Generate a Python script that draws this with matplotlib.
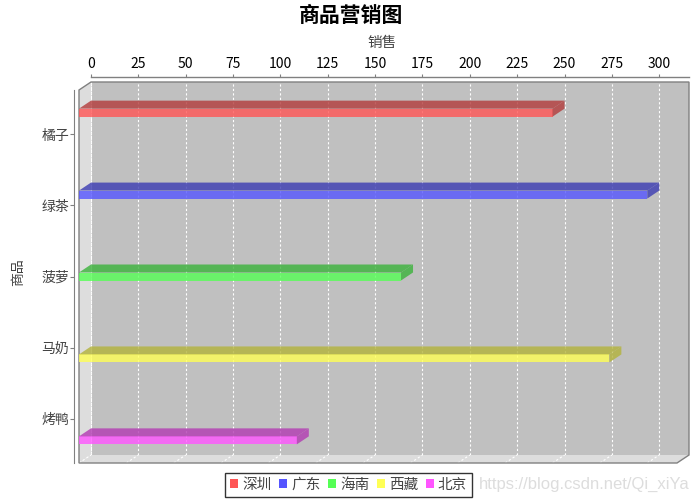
import matplotlib
matplotlib.use("Agg")
import matplotlib.pyplot as plt
from matplotlib.patches import Polygon, Rectangle
import numpy as np

plt.rcParams['font.family'] = ['Noto Sans CJK SC', 'DejaVu Sans']

# ---- data ----
categories = ["橘子", "绿茶", "菠萝", "马奶", "烤鸭"]
series = ["深圳", "广东", "海南", "西藏", "北京"]
series_category = ["橘子", "绿茶", "菠萝", "马奶", "烤鸭"]
values = [250, 300, 170, 280, 115]
colors = ["#FF5555", "#5555FF", "#55FF55", "#FFFF55", "#FF55FF"]
xticks = list(range(0, 301, 25))

title = "商品营销图"
xlabel = "销售"
ylabel = "商品"

# ---- layout (pixels) ----
W, H = 700, 500
DPI = 100
FL, FR, FT, FB = 79, 677, 90, 463      # front plane
DX, DY = 12, 8                          # 3D offset
XMAX = 315.7
YTOP, YBOT = -0.622, 4.622

fig = plt.figure(figsize=(W / DPI, H / DPI), dpi=DPI)
fig.patch.set_facecolor("white")


def rect(l, t, r, b):
    return [l / W, 1 - b / H, (r - l) / W, (b - t) / H]


# back wall axes (carries top value axis)
axb = fig.add_axes(rect(FL + DX, FT - DY, FR + DX, FB - DY))
axb.set_facecolor("#C0C0C0")
axb.set_xlim(0, XMAX)
axb.set_ylim(0, 1)
axb.set_yticks([])
axb.xaxis.tick_top()
axb.set_xticks(xticks)
axb.set_xticklabels([str(t) for t in xticks], family="Liberation Sans",
                    fontsize=9.5, color="#444444")
axb.tick_params(axis="x", direction="out", length=2.5, width=0.8,
                color="#808080", pad=2)
for s in ["left", "right", "bottom"]:
    axb.spines[s].set_visible(False)
axb.spines["top"].set_position(("outward", 3.3))
axb.spines["top"].set_color("#808080")
axb.spines["top"].set_linewidth(1.0)
for t in xticks:
    axb.axvline(t, color="white", lw=0.8, ls=(0, (2, 2)), zorder=0.5)
axb.set_zorder(0)

# front axes (category axis + 3D geometry)
ax = fig.add_axes(rect(FL, FT, FR, FB))
ax.set_zorder(1)
ax.patch.set_visible(False)
ax.set_xlim(0, XMAX)
ax.set_ylim(YBOT, YTOP)
for s in ["top", "right", "bottom"]:
    ax.spines[s].set_visible(False)
ax.spines["left"].set_position(("outward", 3.4))
ax.spines["left"].set_color("#808080")
ax.set_xticks([])
ax.set_yticks(range(len(categories)))
ax.set_yticklabels(categories, fontsize=10, color="#444444")
ax.tick_params(axis="y", direction="out", length=2.6, width=0.8,
               color="#808080", pad=1)

# data units per pixel
dxd = DX * XMAX / (FR - FL)
dyd = DY * (YBOT - YTOP) / (FB - FT)

wall = "#DDDDDD"
# left wall
ax.add_patch(Polygon([(0, YTOP), (0, YBOT), (dxd, YBOT - dyd), (dxd, YTOP - dyd)],
                     closed=True, facecolor=wall, edgecolor="none",
                     clip_on=False, zorder=1))
# floor
ax.add_patch(Polygon([(0, YBOT), (XMAX, YBOT), (XMAX + dxd, YBOT - dyd), (dxd, YBOT - dyd)],
                     closed=True, facecolor=wall, edgecolor="none",
                     clip_on=False, zorder=1))
for t in xticks:
    ax.plot([t, t + dxd], [YBOT, YBOT - dyd], color="white", lw=0.8,
            ls=(0, (2, 2)), clip_on=False, zorder=1.5)
ax.plot([dxd, dxd], [YTOP - dyd, YBOT - dyd], color="white", lw=0.8,
        ls=(0, (2, 2)), clip_on=False, zorder=1.5)
# outline
ax.add_patch(Polygon([(0, YTOP), (0, YBOT), (XMAX, YBOT), (XMAX + dxd, YBOT - dyd),
                      (XMAX + dxd, YTOP - dyd), (dxd, YTOP - dyd)],
                     closed=True, facecolor="none", edgecolor="#808080", lw=1.0,
                     clip_on=False, zorder=2))

# bars
slot = 10.8 * (YBOT - YTOP) / (FB - FT)
bh = 8.0 * (YBOT - YTOP) / (FB - FT)
ALPHA = 0.8
for j, (sname, cat, v, c) in enumerate(zip(series, series_category, values, colors)):
    i = categories.index(cat)
    yc = i + (j - 2) * slot
    y0, y1 = yc - bh / 2, yc + bh / 2
    rgb = np.array(matplotlib.colors.to_rgb(c))
    dark = tuple(rgb * 0.7)
    ax.barh(yc, v, height=bh, left=0, color=c, alpha=ALPHA, lw=0,
            clip_on=False, zorder=3)
    ax.add_patch(Polygon([(0, y0), (v, y0), (v + dxd, y0 - dyd), (dxd, y0 - dyd)],
                         closed=True, facecolor=dark, alpha=ALPHA, lw=0,
                         clip_on=False, zorder=3))
    ax.add_patch(Polygon([(v, y0), (v, y1), (v + dxd, y1 - dyd), (v + dxd, y0 - dyd)],
                         closed=True, facecolor=dark, alpha=ALPHA, lw=0,
                         clip_on=False, zorder=3))

# texts
fig.text(351 / W, 1 - 15 / H, title, ha="center", va="center",
         fontsize=15, fontweight="bold", color="black")
fig.text(382 / W, 1 - 43 / H, xlabel, ha="center", va="center",
         fontsize=10.5, color="#444444")
fig.text(18.5 / W, 1 - 272 / H, ylabel, ha="center", va="center",
         rotation=90, fontsize=10, color="#444444")

# legend
handles = [Rectangle((0, 0), 1, 1, facecolor=c, edgecolor="none") for c in colors]
leg = fig.legend(handles, series, loc="center", ncol=5,
                 bbox_to_anchor=(348.5 / W, 1 - 485 / H),
                 fontsize=10.5, frameon=True, fancybox=False,
                 handlelength=0.55, handleheight=0.55, handletextpad=0.3,
                 columnspacing=0.5, borderpad=0.35, borderaxespad=0)
leg.get_frame().set_edgecolor("black")
leg.get_frame().set_linewidth(1.0)
for txt in leg.get_texts():
    txt.set_color("#444444")

# watermark
fig.text(690 / W, 1 - 484 / H, "https://blog.csdn.net/Qi_xiYa", ha="right",
         va="center", fontsize=12, color="#DDDDDD", family="Liberation Sans",
         fontstretch="condensed")

fig.savefig("out.png", dpi=DPI)
